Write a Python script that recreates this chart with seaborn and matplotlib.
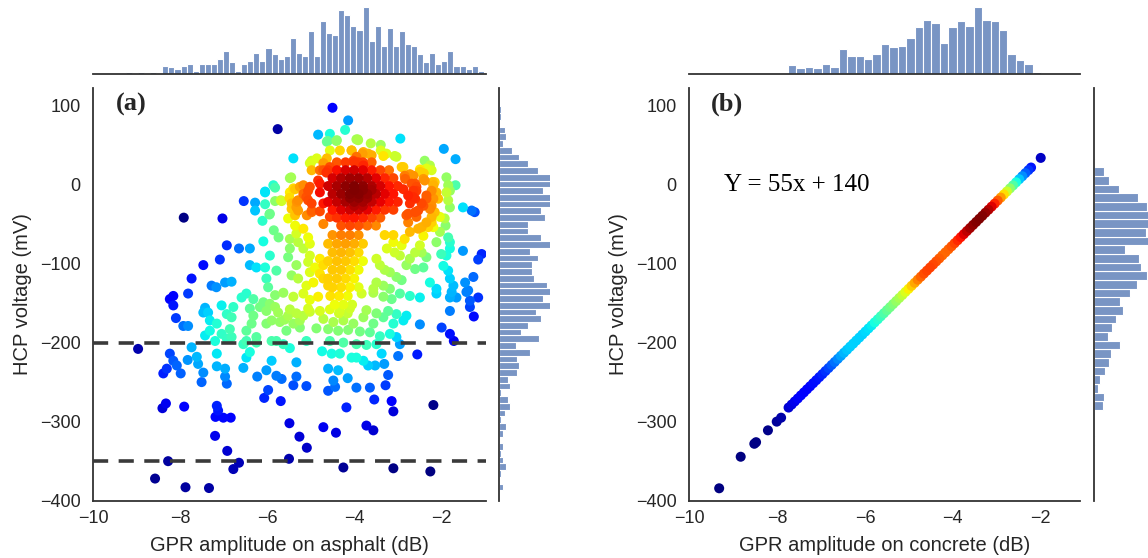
import numpy as np
import pandas as pd
import matplotlib
matplotlib.use("Agg")
import matplotlib.pyplot as plt
import seaborn as sns

# ---------------- panel (a): asphalt GPR amplitude vs HCP voltage ----------------
# sparse outer points (x = GPR amplitude dB, y = HCP voltage mV)
outer_left = [(-7.92,-42),(-7.03,-43),(-6.93,-77),(-6.65,-81),(-6.40,-81),(-6.54,-21),(-6.28,-23),(-6.28,-33),
              (-6.05,-10),(-6.05,-25),(-5.86,-1),(-5.82,-21),(-5.67,-21),(-5.94,-37),(-6.11,-46),(-5.40,33),
              (-5.45,9),(-5.76,70),(-7.47,-102),(-7.09,-95),(-7.74,-119),(-7.28,-128),(-7.17,-130),(-6.97,-124),
              (-6.82,-123),(-8.16,-141),(-7.82,-138),(-6.40,-102),(-6.25,-105),(-6.05,-105),(-5.85,-58),(-5.74,-67),
              (-6.09,-72),(-5.94,-90),(-5.79,-109),(-6.02,-119),(-5.98,-130),(-5.82,-4),(-6.05,-9),(-5.95,-38),
              (-5.69,-20),(-5.48,8)]
outer_right = [(-2.94,58),(-1.94,45),(-1.67,32),(-2.38,30),(-2.26,24),(-2.22,18),(-1.88,9),(-1.84,-1),(-1.67,-1),
               (-2.20,3),(-1.88,-10),(-1.84,-20),(-1.80,-29),(-1.50,-29),(-1.30,-33),(-1.23,-35),(-1.92,-43),
               (-1.90,-52),(-1.84,-67),(-1.80,-73),(-1.80,-81),(-1.50,-84),(-1.07,-88),(-1.15,-95),(-1.95,-103),
               (-1.84,-109),(-1.80,-119),(-1.72,-128),(-1.26,-117),(-1.45,-124),(-1.38,-134),(-2.11,-132),
               (-2.41,-105),(-2.26,-124),(-2.45,-86),(-2.34,-92),(-2.11,-73),(-2.49,-77),(-2.00,-88),(-1.88,-90),
               (-1.80,-8),(-2.34,20),(-2.49,19),(-2.40,14)]
upper_mid = [(-4.83,63),(-4.61,55),(-4.41,55),(-4.21,69),(-4.14,81),(-4.50,97),(-3.92,57),(-3.62,52),(-3.39,50),
             (-3.39,43),(-4.56,43),(-4.33,43),(-4.06,43),(-3.81,39),(-3.60,37),(-3.33,36),(-3.07,36),(-5.02,27),
             (-4.71,27),(-4.79,18),(-4.64,15),(-2.91,22),(-2.84,11),(-2.64,11),(-2.60,1),(-2.49,16),(-2.41,7),
             (-2.18,-1),(-2.11,-10),(-2.34,-14),(-2.18,-18),(-2.41,-27),(-2.26,-31),(-2.15,-35),(-2.03,-41),
             (-2.22,-48),(-2.18,-54),(-2.03,-60),(-2.87,-6),(-2.76,-14),(-2.57,-3),(-2.60,-18),(-2.72,-24),
             (-2.80,-39),(-2.76,-48),(-2.60,-35),(-2.53,-56),(-2.41,-65),(-2.72,-60),(-2.84,-69),(-2.91,-77),
             (-3.10,-73),(-3.25,-81),(-3.07,-86),(-2.95,-90),(-2.72,-94),(-2.60,-86),(-2.80,-102),(-2.60,-107),
             (-3.18,-111),(-3.03,-117),(-2.91,-121),(-3.33,-128),(-3.18,-132),(-3.49,-94),(-3.41,-102),
             (-3.30,-108),(-3.56,-132),(-3.49,-124),(-4.56,64),(-4.40,56),(-4.63,54),(-3.95,57),(-4.06,43),
             (-3.95,35),(-3.91,56),(-3.79,41),(-3.68,39),(-4.02,30),(-3.91,28),(-3.79,24),(-3.26,39),(-3.03,35),
             (-2.87,22),(-2.72,13),(-2.83,7),(-2.68,1),(-2.64,-8),(-2.57,-8),(-2.64,-16),(-2.45,-24),(-2.53,-33),
             (-2.38,5),(-2.15,3),(-2.22,-8),(-2.34,-18),(-2.07,-18),(-2.22,-27),(-2.76,-37),(-2.57,-41),
             (-2.34,-48),(-2.22,-41),(-2.45,-54),(-2.30,-54)]
left_mid = [(-5.48,-10),(-5.36,-6),(-5.44,-24),(-5.33,-29),(-5.17,-1),(-5.02,-3),(-5.29,-20),(-5.10,-16),
            (-5.52,-43),(-5.36,-39),(-5.36,-52),(-5.48,-69),(-5.33,-62),(-5.29,-73),(-5.17,-56),(-5.06,-67),
            (-5.48,-81),(-5.52,-92),(-5.17,-81),(-5.02,-75),(-5.02,-90),(-5.06,-98),(-4.90,-105),(-5.02,-111),
            (-5.33,-102),(-5.44,-115),(-5.29,-119),(-5.10,-128),(-4.94,-124),(-4.79,-94),(-4.71,-102),
            (-4.79,-113),(-4.71,-119),(-4.60,-128),(-4.98,-24),(-4.98,-35),(-4.79,-10),(-4.79,1),(-4.71,-24),
            (-4.79,-34),(-4.71,-50),(-4.56,-41),(-5.00,27),(-4.98,18),(-5.25,-3),(-5.06,-8),(-5.40,-5),
            (-5.49,-17),(-5.32,-22),(-5.44,-31),(-5.29,-33),(-5.17,-12),(-5.06,-20),(-4.98,-33),(-5.09,-39),
            (-4.83,5),(-4.71,18),(-4.56,22),(-4.98,30),(-4.86,33),(-4.63,33)]
lower = [(-8.97,-208),(-8.24,-214),(-8.16,-223),(-8.08,-229),(-8.31,-233),(-8.39,-239),(-7.99,-239),(-7.83,-222),
         (-7.74,-206),(-7.62,-218),(-7.59,-227),(-7.47,-238),(-7.51,-250),(-7.16,-214),(-7.16,-230),(-6.97,-233),
         (-6.97,-243),(-6.93,-252),(-8.24,-145),(-8.16,-153),(-8.10,-169),(-7.93,-179),(-7.82,-179),(-7.47,-162),
         (-7.36,-162),(-7.43,-156),(-7.32,-172),(-7.16,-176),(-7.05,-153),(-6.78,-155),(-6.93,-164),(-6.82,-168),
         (-7.43,-191),(-7.32,-185),(-7.20,-198),(-7.05,-189),(-6.93,-195),(-6.86,-183),(-6.82,-193),(-6.55,-202),
         (-6.48,-219),(-6.55,-232),(-6.40,-212),(-6.59,-143),(-6.48,-138),(-6.32,-145),(-6.32,-166),(-6.36,-176),
         (-6.48,-185),(-6.25,-193),(-6.17,-155),(-6.09,-149),(-5.94,-151),(-5.82,-155),(-6.02,-176),(-5.90,-172),
         (-5.71,-174),(-5.52,-166),(-5.56,-185),(-5.40,-176),(-5.25,-181),(-5.17,-166),(-5.06,-157),(-5.90,-198),
         (-5.79,-198),(-5.63,-202),(-5.48,-207),(-6.48,-198),(-6.25,-200),(-5.90,-223),(-6.02,-235),(-6.23,-243),
         (-5.79,-242),(-5.67,-246),(-5.98,-260),(-6.07,-270),(-5.69,-274),(-5.33,-225),(-5.33,-243),(-5.40,-254),
         (-5.10,-255),(-5.49,-302),(-5.26,-319),(-5.09,-333),(-5.50,-347),(-4.71,-307),(-4.42,-314),(-4.60,-233),
         (-4.37,-235),(-4.48,-248),(-4.44,-256),(-4.60,-261),(-4.15,-245),(-3.95,-257),(-3.64,-257),(-3.54,-272),
         (-4.18,-282),(-4.74,-211),(-4.52,-214),(-4.33,-214),(-4.06,-219),(-3.95,-219),(-3.79,-223),(-3.68,-229),
         (-3.52,-229),(-3.37,-214),(-3.31,-227),(-3.22,-241),(-3.14,-274),(-3.10,-287),(-3.28,-254),(-3.72,-305),
         (-3.56,-311),(-4.25,-358),(-3.10,-359),(-2.25,-363),(-2.18,-279),(-2.99,-217),(-2.55,-215),(-2.95,-202),
         (-2.49,-177),(-1.99,-181),(-1.80,-189),(-1.71,-198),(-1.80,-160),(-1.80,-143),(-1.65,-143),(-1.34,-147),
         (-1.34,-155),(-1.25,-167),(-1.15,-143),(-1.42,-136),(-1.76,-136),(-2.11,-138),(-8.28,-350),(-8.58,-372),
         (-7.88,-383),(-7.34,-384),(-6.78,-360),(-6.65,-352),(-7.20,-318),(-6.92,-337),(-8.41,-283),(-8.33,-277),
         (-7.91,-281),(-7.16,-280),(-7.13,-286),(-7.19,-294),(-7.01,-295),(-6.84,-295)]
lower_mid = [(-5.82,-140),(-5.63,-137),(-5.40,-142),(-5.17,-138),(-5.02,-146),(-4.83,-142),(-3.83,-138),
             (-3.56,-137),(-3.33,-142),(-3.14,-145),(-2.95,-138),(-2.72,-141),(-2.49,-143),(-6.40,-157),
             (-6.02,-160),(-5.75,-162),(-5.48,-158),(-5.33,-163),(-5.02,-161),(-4.79,-160),(-4.56,-158),
             (-4.33,-160),(-4.10,-157),(-3.72,-159),(-3.49,-163),(-3.22,-160),(-3.03,-164),(-2.80,-166),
             (-5.60,-171),(-5.25,-172),(-4.71,-170),(-4.48,-174),(-4.25,-172),(-4.02,-176),(-3.79,-168),
             (-3.56,-176),(-3.33,-168),(-3.10,-176),(-2.87,-172),(-4.87,-182),(-4.60,-183),(-4.37,-185),
             (-4.14,-184),(-3.87,-186),(-3.64,-187),(-3.41,-192),(-3.18,-189),(-3.03,-193),(-5.10,-198),
             (-4.56,-198),(-4.25,-200),(-3.95,-202),(-3.72,-203),(-3.49,-202)]
core = [(-4.4,28),(-4.2,28),(-4.0,28),(-3.8,28),(-3.6,28),
        (-4.6,18),(-4.4,18),(-4.2,18),(-4.0,18),(-3.8,18),(-3.6,18),(-3.4,18),(-3.2,18),
        (-4.5,8),(-4.3,8),(-4.1,8),(-3.9,8),(-3.7,8),(-3.5,8),(-3.3,8),(-3.1,8),
        (-4.6,-2),(-4.4,-2),(-4.2,-2),(-4.0,-2),(-3.8,-2),(-3.6,-2),(-3.4,-2),(-3.2,-2),(-3.0,-2),
        (-4.5,-12),(-4.3,-12),(-4.1,-12),(-3.9,-12),(-3.7,-12),(-3.5,-12),(-3.3,-12),(-3.1,-12),
        (-4.6,-22),(-4.4,-22),(-4.2,-22),(-4.0,-22),(-3.8,-22),(-3.6,-22),(-3.4,-22),(-3.2,-22),(-3.0,-22),
        (-4.5,-32),(-4.3,-32),(-4.1,-32),(-3.9,-32),(-3.7,-32),(-3.5,-32),(-3.3,-32),(-3.1,-32),
        (-4.4,-42),(-4.2,-42),(-4.0,-42),(-3.8,-42),(-3.6,-42),(-3.4,-42),
        (-4.3,-52),(-4.1,-52),(-3.9,-52),(-3.7,-52),(-3.5,-52),
        (-4.0,-7),(-3.8,-7),(-3.6,-7),(-4.1,-17),(-3.9,-17),(-3.7,-17),(-4.0,-27),(-3.8,-27)]
lobe = [(-4.5,-64),(-4.3,-64),(-4.1,-64),(-3.9,-64),(-3.3,-64),(-3.1,-64),
        (-4.6,-75),(-4.4,-75),(-4.2,-75),(-4.0,-75),(-3.8,-75),
        (-4.5,-86),(-4.3,-86),(-4.1,-86),(-3.9,-86),
        (-4.6,-97),(-4.4,-97),(-4.2,-97),(-4.0,-97),(-3.8,-97),
        (-4.5,-108),(-4.3,-108),(-4.1,-108),(-3.9,-108),
        (-4.6,-119),(-4.4,-119),(-4.2,-119),(-4.0,-119),
        (-4.5,-130),(-4.3,-130),(-4.1,-130),(-3.9,-130),
        (-4.55,-141),(-4.35,-141),(-4.15,-141),
        (-4.45,-152),(-4.25,-152),(-4.05,-152),
        (-4.35,-163),(-4.15,-163)]

# marginal histograms of panel (a)
asphalt_x_counts = [1,0,1,0,1,0,5,4,3,5,6,2,6,6,6,9,14,7,2,6,8,13,8,16,12,9,11,22,13,11,26,11,32,25,24,39,
                    36,29,27,41,20,29,17,28,17,26,18,17,12,7,13,6,8,14,5,5,3,5,2]
asphalt_x_range = (-9.25, -1.02)
asphalt_y_counts_top_down = [1,1,0,3,4,2,7,11,16,21,30,31,24,30,31,23,25,16,16,23,30,17,21,18,18,19,26,30,24,31,
                             20,23,16,12,22,9,17,10,11,10,5,6,1,5,6,3,1,4,2,0,2,1,2,4,1,0,2]
asphalt_y_range = (-387.0, 98.7)
threshold_levels = [-200, -350]

# ---------------- panel (b): concrete, fitted line ----------------
concrete_x = [-9.32,-8.83,-8.52,-8.48,-8.21,-8.01,-7.91,
              -7.74,-7.67,-7.60,-7.53,-7.46,-7.39,-7.32,-7.25,-7.18,-7.11,-7.04,-6.97,-6.90,-6.83,-6.76,-6.69,
              -6.62,-6.55,-6.48,-6.41,-6.34,-6.27,-6.20,-6.13,-6.06,-5.99,-5.92,-5.85,-5.78,-5.71,-5.64,-5.57,
              -5.50,-5.43,-5.36,-5.29,-5.22,-5.15,-5.08,-5.01,-4.94,-4.87,-4.80,-4.73,-4.66,-4.59,-4.52,-4.45,
              -4.38,-4.31,-4.24,-4.17,-4.10,-4.03,-3.96,-3.89,-3.82,-3.75,-3.68,-3.61,-3.54,-3.47,-3.40,-3.33,
              -3.26,-3.19,-3.12,-3.05,-2.98,-2.91,-2.84,-2.77,-2.70,-2.63,-2.56,-2.49,-2.42,-2.35,-2.28,-2.22,
              -2.00]
concrete_hcp = [-384.3,-344.4,-328.0,-326.0,-311.0,-300.0,-295.0,
                -282.2,-278.4,-274.5,-270.7,-266.8,-263.0,-259.1,-255.3,-251.4,-247.6,-243.7,-239.9,-236.0,-232.2,
                -228.3,-224.5,-220.6,-216.8,-212.9,-209.1,-205.2,-201.4,-197.5,-193.7,-189.8,-186.0,-182.1,-178.3,
                -174.4,-170.6,-166.7,-162.9,-159.0,-155.2,-151.3,-147.5,-143.6,-139.8,-135.9,-132.1,-128.2,-124.4,
                -120.5,-116.7,-112.8,-109.0,-105.1,-101.3,-97.4,-93.6,-89.7,-85.9,-82.0,-78.2,-74.3,-70.5,-66.6,
                -62.8,-58.9,-55.1,-51.2,-47.4,-43.5,-39.7,-35.8,-32.0,-28.1,-24.3,-20.4,-16.6,-12.7,-8.9,-5.0,
                -1.2,2.7,6.6,10.4,14.3,18.1,21.4,
                33.6]
concrete_x_counts = [1,0,0,0,7,5,6,5,8,6,20,15,15,12,16,24,22,23,29,38,44,41,25,38,43,39,54,44,43,36,16,11,8,2]
concrete_x_range = (-8.52, -1.99)
concrete_y_counts_top_down = [1,8,12,20,36,43,46,47,42,46,25,37,38,43,35,29,21,24,18,15,11,21,14,12,9,5,3,8,7,0,0,0,1]
concrete_y_range = (-329.0, 32.5)
equation_text = "Y = 55x + 140"

# ---------------- style ----------------
sns.set_theme(style="white")
plt.rcParams["font.family"] = ["Liberation Sans", "DejaVu Sans"]
HIST_COLOR = "#4c72b0"
SPINE = "#333333"
JET = matplotlib.colormaps["jet"]

W, H = 1148, 558
fig = plt.figure(figsize=(W / 100, H / 100), dpi=100)


def box(l, t, r, b):
    return [l / W, 1 - b / H, (r - l) / W, (b - t) / H]


def kde2d(x, y):
    d = np.vstack([x, y])
    n = d.shape[1]
    f = n ** (-1.0 / 6.0)
    inv = np.linalg.inv(np.cov(d) * f ** 2)
    dx = d[0][:, None] - d[0][None, :]
    dy = d[1][:, None] - d[1][None, :]
    q = inv[0, 0] * dx ** 2 + 2 * inv[0, 1] * dx * dy + inv[1, 1] * dy ** 2
    return np.exp(-0.5 * q).sum(axis=1)


def hist_mids(rng, n):
    e = np.linspace(rng[0], rng[1], n + 1)
    return (e[:-1] + e[1:]) / 2


def style_main(ax, xlim, xlabel):
    ax.set_xlim(*xlim)
    ax.set_ylim(-400, 122)
    ax.set_xticks([-10, -8, -6, -4, -2])
    ax.set_yticks([-400, -300, -200, -100, 0, 100])
    ax.tick_params(axis="both", length=0, labelsize=13, colors="#262626")
    ax.tick_params(axis="x", pad=7)
    ax.tick_params(axis="y", pad=9)
    ax.set_xlabel(xlabel, fontsize=14.5, color="#262626", labelpad=6)
    ax.set_ylabel("HCP voltage (mV)", fontsize=14.5, color="#262626", labelpad=6)
    for s in ["top", "right"]:
        ax.spines[s].set_visible(False)
    for s in ["left", "bottom"]:
        ax.spines[s].set_color(SPINE)
        ax.spines[s].set_linewidth(1.3)


def top_marg(ax, counts, rng, xlim, ytop):
    sns.histplot(x=hist_mids(rng, len(counts)), weights=counts, bins=len(counts), binrange=rng,
                 color=HIST_COLOR, alpha=0.75, edgecolor="white", linewidth=0.8, ax=ax)
    ax.set_xlim(*xlim)
    ax.set_ylim(0, ytop)
    ax.set_xticks([]); ax.set_yticks([])
    ax.set_xlabel(""); ax.set_ylabel("")
    for s in ["top", "right", "left"]:
        ax.spines[s].set_visible(False)
    ax.spines["bottom"].set_color(SPINE)
    ax.spines["bottom"].set_linewidth(1.3)


def right_marg(ax, counts_top_down, rng, xright):
    counts = list(reversed(counts_top_down))
    sns.histplot(y=hist_mids(rng, len(counts)), weights=counts, bins=len(counts), binrange=rng,
                 color=HIST_COLOR, alpha=0.75, edgecolor="white", linewidth=0.8, ax=ax)
    ax.set_ylim(-400, 122)
    ax.set_xlim(0, xright)
    ax.set_xticks([]); ax.set_yticks([])
    ax.set_xlabel(""); ax.set_ylabel("")
    for s in ["top", "right", "bottom"]:
        ax.spines[s].set_visible(False)
    ax.spines["left"].set_color(SPINE)
    ax.spines["left"].set_linewidth(1.3)


# ---------------- panel (a) ----------------
pts = outer_left + outer_right + upper_mid + left_mid + lower + lower_mid + core + lobe
ax_x = np.array([p[0] for p in pts], float)
ax_y = np.array([p[1] for p in pts], float)
dens_a = kde2d(ax_x, ax_y)
df_a = pd.DataFrame({"x": ax_x, "y": ax_y, "d": dens_a}).sort_values("d")

axA = fig.add_axes(box(93.3, 88, 486, 500.7))
sns.scatterplot(data=df_a, x="x", y="y", hue="d", palette=JET,
                hue_norm=(df_a["d"].min(), df_a["d"].max()), s=52, linewidth=0,
                legend=False, ax=axA)
for lvl in threshold_levels:
    axA.axhline(lvl, color="#3a3a3a", lw=2.6, dashes=(4.2, 2.9), zorder=3)
style_main(axA, (-10, -0.97), "GPR amplitude on asphalt (dB)")
axA.text(0.058, 0.959, "(a)", transform=axA.transAxes, ha="left", va="center",
         fontsize=19, fontweight="bold", family=["Liberation Serif", "DejaVu Serif"])

axA_top = fig.add_axes(box(93.3, 0, 486, 74))
top_marg(axA_top, asphalt_x_counts, asphalt_x_range, (-10, -0.97), 45)
axA_right = fig.add_axes(box(499, 88, 550, 500.7))
right_marg(axA_right, asphalt_y_counts_top_down, asphalt_y_range, 27.8)

# ---------------- panel (b) ----------------
cx = np.array(concrete_x, float)
cy = np.array(concrete_hcp, float)
mids_c = hist_mids(concrete_x_range, len(concrete_x_counts))
bw = 0.26
dens_b = (np.array(concrete_x_counts)[None, :] *
          np.exp(-0.5 * ((cx[:, None] - mids_c[None, :]) / bw) ** 2)).sum(axis=1)
df_b = pd.DataFrame({"x": cx, "y": cy, "d": dens_b}).sort_values("d")

axB = fig.add_axes(box(689.3, 88, 1080, 500.7))
sns.scatterplot(data=df_b, x="x", y="y", hue="d", palette=JET,
                hue_norm=(df_b["d"].min(), df_b["d"].max()), s=52, linewidth=0,
                legend=False, ax=axB)
style_main(axB, (-10, -1.106), "GPR amplitude on concrete (dB)")
axB.text(0.054, 0.961, "(b)", transform=axB.transAxes, ha="left", va="center",
         fontsize=19, fontweight="bold", family=["Liberation Serif", "DejaVu Serif"])
axB.text(0.09, 0.766, equation_text, transform=axB.transAxes, ha="left", va="center",
         fontsize=18, family=["Liberation Serif", "DejaVu Serif"], color="black")

axB_top = fig.add_axes(box(689.3, 0, 1080, 74))
top_marg(axB_top, concrete_x_counts, concrete_x_range, (-10, -1.106), 60)
axB_right = fig.add_axes(box(1094, 88, 1148, 500.7))
right_marg(axB_right, concrete_y_counts_top_down, concrete_y_range, 44)

fig.savefig("out.png", dpi=100)
